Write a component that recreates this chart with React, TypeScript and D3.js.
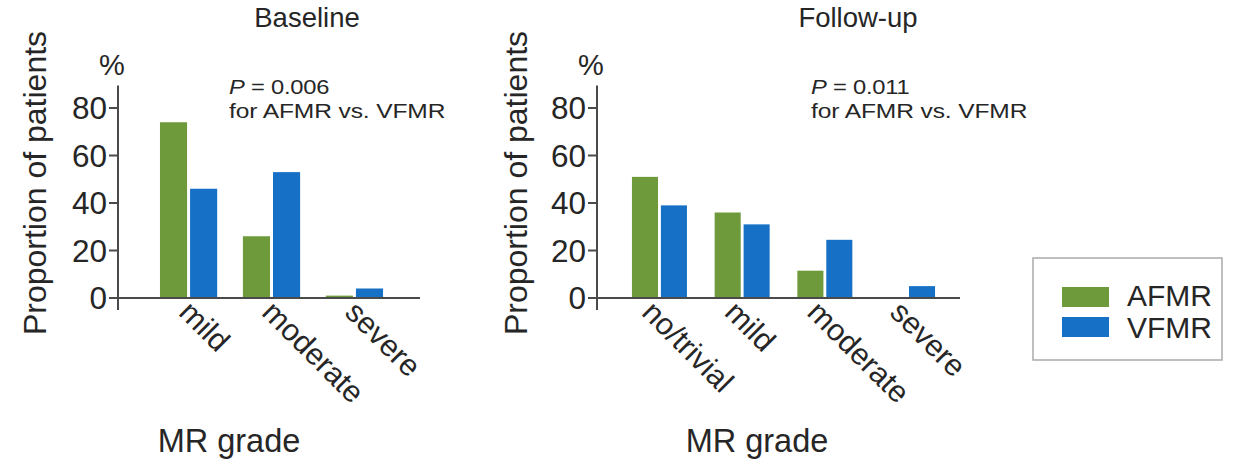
import React from "react";
import * as d3 from "d3";

const series = ["AFMR", "VFMR"];
const colors = ["#6e9a3b", "#1670c6"];

const baselineCategories = ["mild", "moderate", "severe"];
const baselineAFMR = [74, 26, 1];
const baselineVFMR = [46, 53, 4];

const followCategories = ["no/trivial", "mild", "moderate", "severe"];
const followAFMR = [51, 36, 11.5, 0];
const followVFMR = [39, 31, 24.5, 5];

const yTicks = [0, 20, 40, 60, 80];

const FONT = "'Liberation Sans', Arial, Helvetica, sans-serif";
const TEXT = "#262626";
const AXIS = "#4a4a4a";

type PanelProps = {
  title: string;
  titleX: number;
  categories: string[];
  a: number[];
  b: number[];
  axisX: number;
  xEnd: number;
  bandRange: [number, number];
  padInner: number;
  labelDx: number;
  pText: string;
  pX: number;
  yLabelX: number;
  xTitleX: number;
};

function Panel(p: PanelProps) {
  const y = d3.scaleLinear().domain([0, 80]).range([298, 108]);
  const x = d3
    .scaleBand<string>()
    .domain(p.categories)
    .range(p.bandRange)
    .paddingInner(p.padInner)
    .paddingOuter(0.5);
  const xs = d3.scaleBand<string>().domain(series).range([0, x.bandwidth()]).paddingInner(0.1);
  const vals = [p.a, p.b];
  return (
    <g>
      <text x={p.titleX} y={27} textAnchor="middle" fontSize={27.5} fill={TEXT}>
        {p.title}
      </text>
      <text x={p.axisX - 6} y={75} textAnchor="middle" fontSize={29} fill={TEXT}>
        %
      </text>
      <text
        transform={`translate(${p.yLabelX},183) rotate(-90)`}
        textAnchor="middle"
        fontSize={32}
        fill={TEXT}
      >
        Proportion of patients
      </text>
      {p.categories.map((c, i) =>
        series.map((s, j) => {
          const v = vals[j][i];
          return (
            <rect
              key={c + s}
              x={(x(c) as number) + (xs(s) as number)}
              y={y(v)}
              width={xs.bandwidth()}
              height={y(0) - y(v)}
              fill={colors[j]}
            />
          );
        })
      )}
      {/* y axis */}
      <line x1={p.axisX} x2={p.axisX} y1={y(89.5)} y2={y(-5)} stroke={AXIS} strokeWidth={2} />
      {yTicks.map((t) => (
        <g key={t}>
          <line x1={p.axisX - 9} x2={p.axisX} y1={y(t)} y2={y(t)} stroke={AXIS} strokeWidth={2} />
          <text
            x={p.axisX - 11}
            y={y(t)}
            dy="0.36em"
            textAnchor="end"
            fontSize={31.5}
            fill={TEXT}
          >
            {t}
          </text>
        </g>
      ))}
      {/* x axis */}
      <line x1={p.axisX} x2={p.xEnd} y1={y(0)} y2={y(0)} stroke={AXIS} strokeWidth={2} />
      {p.categories.map((c) => {
        const cx = (x(c) as number) + x.bandwidth() / 2 + p.labelDx;
        return (
          <text
            key={c}
            transform={`translate(${cx},314) rotate(45)`}
            textAnchor="start"
            fontSize={30.5}
            fill={TEXT}
          >
            {c}
          </text>
        );
      })}
      <text x={p.xTitleX} y={452} textAnchor="middle" fontSize={32.5} fill={TEXT}>
        MR grade
      </text>
      <text
        transform={`translate(${p.pX},94) scale(1.13,1)`}
        fontSize={21}
        fill={TEXT}
        letterSpacing={-0.2}
      >
        <tspan fontStyle="italic">P</tspan>
        {" = " + p.pText}
      </text>
      <text
        transform={`translate(${p.pX},118) scale(1.17,1)`}
        fontSize={21}
        fill={TEXT}
        letterSpacing={-0.1}
      >
        for AFMR vs. VFMR
      </text>
    </g>
  );
}

export default function App() {
  return (
    <svg
      width={1233}
      height={459}
      style={{ position: "absolute", left: 0, top: 0, background: "#fff" }}
      fontFamily={FONT}
    >
      <rect x={0} y={0} width={1233} height={459} fill="#fff" />
      <Panel
        title="Baseline"
        titleX={307}
        categories={baselineCategories}
        a={baselineAFMR}
        b={baselineVFMR}
        axisX={118}
        xEnd={420}
        bandRange={[118.5, 424.5]}
        padInner={0.31}
        labelDx={-11}
        pText="0.006"
        pX={229}
        yLabelX={46}
        xTitleX={229}
      />
      <Panel
        title="Follow-up"
        titleX={858}
        categories={followCategories}
        a={followAFMR}
        b={followVFMR}
        axisX={597}
        xEnd={960}
        bandRange={[590.6, 976.4]}
        padInner={0.335}
        labelDx={-19}
        pText="0.011"
        pX={811}
        yLabelX={527}
        xTitleX={757}
      />
      {/* legend */}
      <rect x={1033} y={258} width={189} height={102} fill="#fff" stroke="#aaa" strokeWidth={1.5} />
      {series.map((s, i) => (
        <g key={s}>
          <rect x={1062} y={287 + i * 30} width={47} height={20} fill={colors[i]} />
          <text x={1127} y={306 + i * 32} fontSize={30} fill={TEXT}>
            {s}
          </text>
        </g>
      ))}
    </svg>
  );
}
